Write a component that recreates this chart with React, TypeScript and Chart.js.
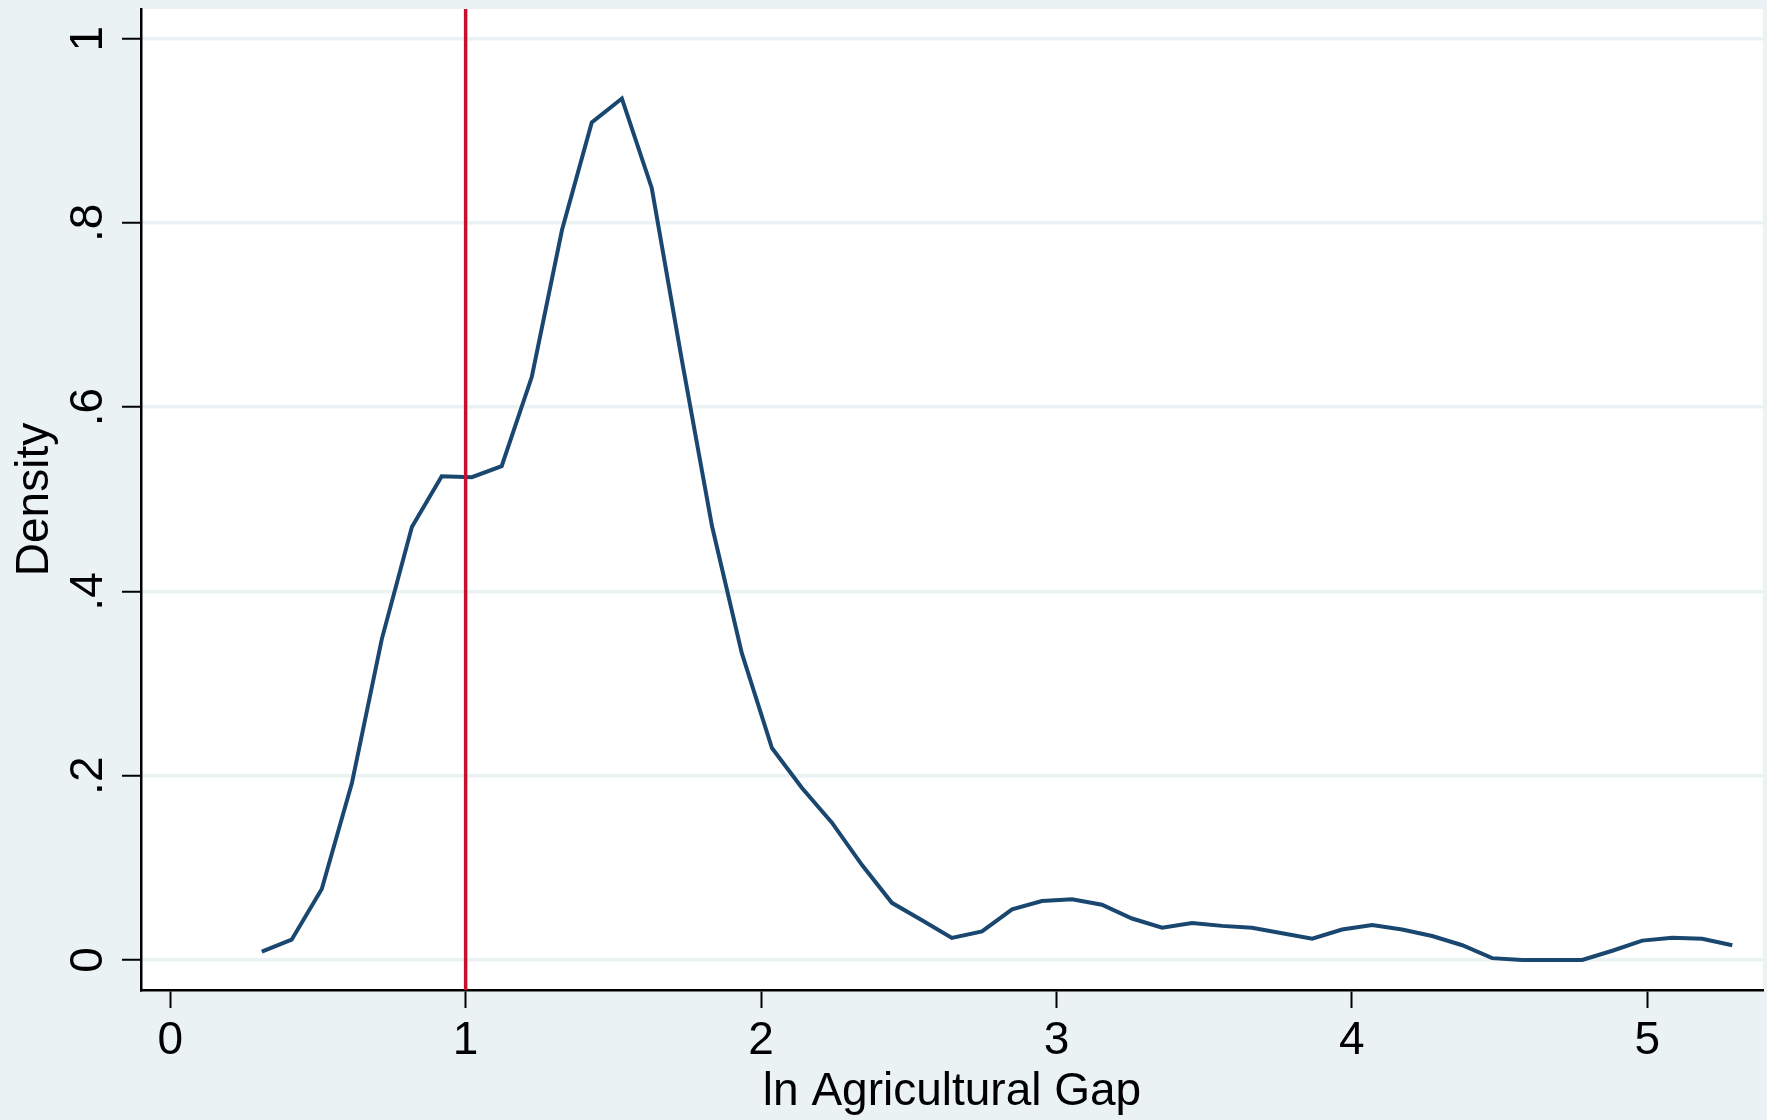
import React, { useEffect, useRef } from "react";
import { Chart, registerables } from "chart.js";

Chart.register(...registerables);

// Kernel density evaluation grid (ln agricultural gap) and density values
const xValues = [
  0.310, 0.411, 0.513, 0.615, 0.716, 0.818, 0.919, 1.021, 1.122, 1.224,
  1.326, 1.427, 1.529, 1.630, 1.732, 1.834, 1.935, 2.037, 2.138, 2.240,
  2.342, 2.443, 2.545, 2.646, 2.748, 2.850, 2.951, 3.053, 3.154, 3.256,
  3.358, 3.459, 3.561, 3.662, 3.764, 3.866, 3.967, 4.069, 4.170, 4.272,
  4.374, 4.475, 4.577, 4.678, 4.780, 4.882, 4.983, 5.085, 5.186, 5.288,
];
const densityValues = [
  0.009, 0.022, 0.077, 0.192, 0.348, 0.470, 0.525, 0.524, 0.536, 0.633,
  0.792, 0.909, 0.935, 0.838, 0.651, 0.471, 0.333, 0.230, 0.187, 0.149,
  0.103, 0.062, 0.043, 0.024, 0.031, 0.055, 0.064, 0.066, 0.060, 0.045,
  0.035, 0.040, 0.037, 0.035, 0.029, 0.023, 0.033, 0.038, 0.033, 0.026,
  0.016, 0.002, 0.000, 0.000, 0.000, 0.010, 0.021, 0.024, 0.023, 0.016,
];

const xTickValues = [0, 1, 2, 3, 4, 5];
const xTickLabels = ["0", "1", "2", "3", "4", "5"];
const yTickValues = [0, 0.2, 0.4, 0.6, 0.8, 1];
const yTickLabels = ["0", ".2", ".4", ".6", ".8", "1"];
const refLineX = 1;
const xRange = [-0.099, 5.392];
const yRange = [-0.0326, 1.0322];

const xTitle = "ln Agricultural Gap";
const yTitle = "Density";

const FONT = '"Liberation Sans", Arial, Helvetica, sans-serif';
const BG = "#EAF2F3";
const NAVY = "#1A476F";
const RED = "#C8102E";

export default function App() {
  const ref = useRef<HTMLCanvasElement | null>(null);

  useEffect(() => {
    const canvas = ref.current;
    if (!canvas) return;

    const bgPlugin = {
      id: "bgPlugin",
      beforeDraw(chart: any) {
        const { ctx, chartArea } = chart;
        ctx.save();
        ctx.fillStyle = BG;
        ctx.fillRect(0, 0, chart.width, chart.height);
        ctx.fillStyle = "#FFFFFF";
        ctx.fillRect(
          chartArea.left,
          chartArea.top,
          chartArea.right - chartArea.left,
          chartArea.bottom - chartArea.top
        );
        ctx.restore();
      },
    };

    const rotatedYTicks = {
      id: "rotatedYTicks",
      afterDraw(chart: any) {
        const { ctx, chartArea } = chart;
        const ys = chart.scales.y;
        ctx.save();
        ctx.font = `46px ${FONT}`;
        ctx.fillStyle = "#000";
        ctx.textAlign = "center";
        ctx.textBaseline = "alphabetic";
        yTickValues.forEach((v, i) => {
          const py = ys.getPixelForValue(v);
          ctx.save();
          ctx.translate(chartArea.left - 39, py);
          ctx.rotate(-Math.PI / 2);
          ctx.fillText(yTickLabels[i], 0, 0);
          ctx.restore();
        });
        ctx.restore();
      },
    };

    const chart = new Chart(canvas, {
      type: "line",
      data: {
        datasets: [
          {
            label: "ref",
            data: [
              { x: refLineX, y: yRange[0] },
              { x: refLineX, y: yRange[1] },
            ],
            borderColor: RED,
            borderWidth: 3.5,
            pointRadius: 0,
            tension: 0,
          },
          {
            label: "density",
            data: xValues.map((x, i) => ({ x, y: densityValues[i] })),
            borderColor: NAVY,
            borderWidth: 4,
            pointRadius: 0,
            tension: 0,
          },
        ],
      },
      options: {
        responsive: false,
        animation: false,
        devicePixelRatio: 1,
        layout: { padding: { top: 9, right: 4, left: 0, bottom: 0 } },
        plugins: {
          legend: { display: false },
          tooltip: { enabled: false },
          title: { display: false },
        },
        scales: {
          x: {
            type: "linear",
            min: xRange[0],
            max: xRange[1],
            afterBuildTicks: (s: any) => {
              s.ticks = xTickValues.map((v) => ({ value: v }));
            },
            afterFit: (s: any) => {
              s.height = 130;
            },
            grid: {
              drawOnChartArea: false,
              drawTicks: true,
              tickLength: 18,
              tickColor: "#000",
              tickWidth: 2,
            },
            border: { display: true, color: "#000", width: 2.5 },
            ticks: {
              autoSkip: false,
              maxRotation: 0,
              minRotation: 0,
              padding: 6,
              color: "#000",
              font: { family: FONT, size: 46 },
              callback: (v: any) => {
                const i = xTickValues.indexOf(Number(v));
                return i >= 0 ? xTickLabels[i] : "";
              },
            },
            title: {
              display: true,
              text: xTitle,
              color: "#000",
              font: { family: FONT, size: 46 },
              padding: { top: 0, bottom: 0 },
            },
          },
          y: {
            type: "linear",
            min: yRange[0],
            max: yRange[1],
            afterBuildTicks: (s: any) => {
              s.ticks = yTickValues.map((v) => ({ value: v }));
            },
            afterFit: (s: any) => {
              s.width = 141;
            },
            grid: {
              color: BG,
              lineWidth: 3.5,
              drawTicks: true,
              tickLength: 19,
              tickColor: "#000",
              tickWidth: 2,
            },
            border: { display: true, color: "#000", width: 2.5 },
            ticks: { display: false },
            title: {
              display: true,
              text: yTitle,
              color: "#000",
              font: { family: FONT, size: 46 },
              padding: { top: 8, bottom: 0 },
            },
          },
        },
      },
      plugins: [bgPlugin, rotatedYTicks],
    } as any);

    return () => chart.destroy();
  }, []);

  return (
    <div style={{ position: "fixed", left: 0, top: 0, width: 1767, height: 1120, background: BG }}>
      <canvas ref={ref} width={1767} height={1120} style={{ width: 1767, height: 1120, display: "block" }} />
    </div>
  );
}
